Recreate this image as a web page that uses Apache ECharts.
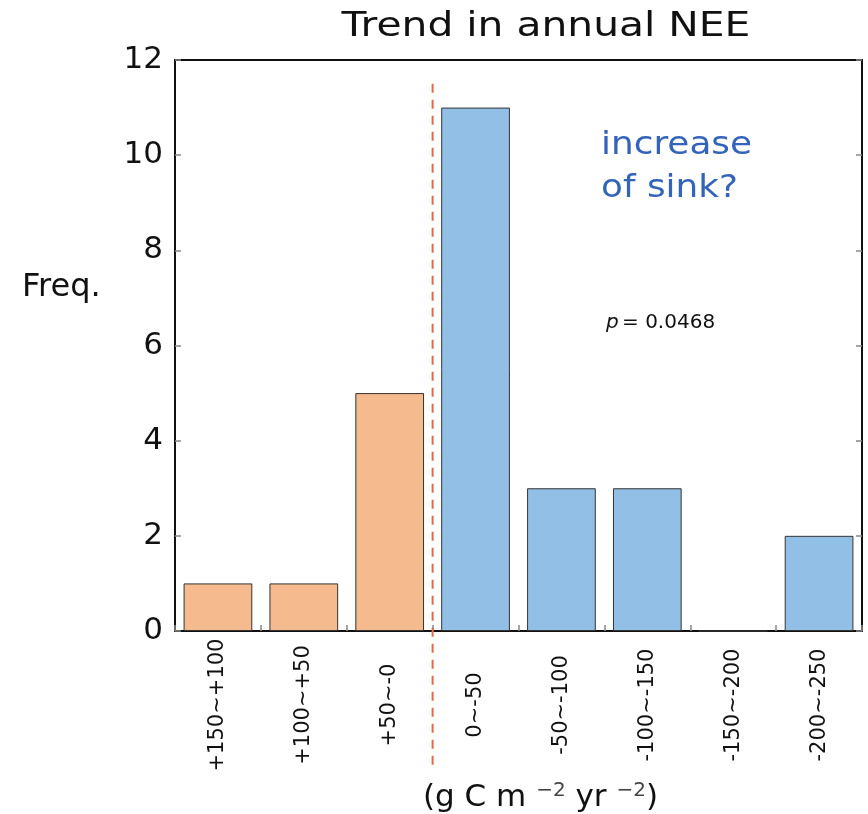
<!DOCTYPE html>
<html>
<head>
<meta charset="utf-8">
<script src="https://cdn.jsdelivr.net/npm/echarts@6/dist/echarts.min.js"></script>
<style>html,body{margin:0;padding:0;background:#fff;overflow:hidden;}#c{width:868px;height:814px;}</style>
</head>
<body>
<div id="c"></div>
<script>
const categories = ['+150~+100', '+100~+50', '+50~-0', '0~-50', '-50~-100', '-100~-150', '-150~-200', '-200~-250'];
const frequencies = [1, 1, 5, 11, 3, 3, 0, 2];
const barColors = ['#F5BA8E', '#F5BA8E', '#F5BA8E', '#92BFE6', '#92BFE6', '#92BFE6', '#92BFE6', '#92BFE6'];
const yTicks = [0, 2, 4, 6, 8, 10, 12];
const dividerBoundary = 3; // boundary between category 3 and 4

const chart = echarts.init(document.getElementById('c'));
const font = "'DejaVu Sans', sans-serif";

chart.setOption({
  animation: false,
  backgroundColor: '#fff',
  grid: { left: 175, width: 687, top: 60, height: 571, containLabel: false, outerBoundsMode: 'none' },
  xAxis: [{
    type: 'category',
    data: categories,
    position: 'bottom',
    axisLine: { show: true, lineStyle: { color: '#111', width: 2 } },
    axisTick: { show: true, inside: true, length: 6, lineStyle: { color: '#888', width: 1.5 } },
    axisLabel: {
      rotate: 90, align: 'center', verticalAlign: 'middle', margin: 74,
      fontFamily: font, fontSize: 21, color: '#111'
    },
    name: '{a|(g C m }{s|−2}{a| yr }{s|−2}{a|)}',
    nameLocation: 'middle', nameGap: 150,
    nameTextStyle: {
      padding: [0, 0, 0, 44],
      rich: {
        a: { fontFamily: font, fontSize: 31, color: '#111' },
        s: { fontFamily: font, fontSize: 20, color: '#444', verticalAlign: 'top', padding: [0, 0, 14, 0] }
      }
    }
  }, {
    type: 'value', min: 0, max: categories.length, position: 'top',
    axisLine: { show: true, onZero: false, lineStyle: { color: '#111', width: 2 } },
    axisTick: { show: false }, axisLabel: { show: false }, splitLine: { show: false }
  }],
  yAxis: [{
    type: 'value', min: 0, max: 12, interval: 2,
    position: 'left',
    axisLine: { show: true, lineStyle: { color: '#111', width: 2 } },
    axisTick: { show: true, inside: true, length: 6, lineStyle: { color: '#888', width: 1.5 } },
    axisLabel: { fontFamily: font, fontSize: 31, color: '#111', margin: 12,
      formatter: v => yTicks.includes(v) ? String(v) : '' },
    splitLine: { show: false }
  }, {
    type: 'value', min: 0, max: 12, interval: 2, position: 'right',
    axisLine: { show: true, lineStyle: { color: '#111', width: 2 } },
    axisTick: { show: true, inside: true, length: 6, lineStyle: { color: '#888', width: 1.5 } },
    axisLabel: { show: false }, splitLine: { show: false }
  }],
  series: [{
    type: 'bar',
    xAxisIndex: 0, yAxisIndex: 0,
    barCategoryGap: '20%',
    data: frequencies.map((v, i) => ({
      value: v,
      itemStyle: { color: barColors[i], borderColor: '#333', borderWidth: 1 }
    }))
  }]
});

function drawOverlay() {
  const xPix = chart.convertToPixel({ xAxisIndex: 1 }, dividerBoundary);
  const yTop = chart.convertToPixel({ yAxisIndex: 0 }, 11.5);
  chart.setOption({
    graphic: [
      {
        type: 'text', x: 546, y: 27, scaleX: 1.2, z: 10,
        style: { text: 'Trend in annual NEE', align: 'center', verticalAlign: 'middle',
          fontFamily: font, fontSize: 34, fill: '#111' }
      },
      {
        type: 'text', x: 22, y: 288, z: 10,
        style: { text: 'Freq.', align: 'left', verticalAlign: 'middle',
          fontFamily: font, fontSize: 32, fill: '#111' }
      },
      {
        type: 'line', silent: true, z: 10,
        shape: { x1: xPix, y1: yTop, x2: xPix, y2: 765 },
        style: { stroke: '#E8674A', lineWidth: 2, lineDash: [9, 7] }
      },
      {
        type: 'text', x: 601, y: 124, scaleX: 1.12, z: 10,
        style: { text: 'increase\nof sink?', fontFamily: font, fontSize: 32, lineHeight: 43, fill: '#3464B9' }
      },
      {
        type: 'text', x: 606, y: 313, z: 10,
        style: {
          text: '{i|p} {n|= 0.0468}',
          rich: {
            i: { fontFamily: font, fontSize: 20, fontStyle: 'italic', fill: '#111' },
            n: { fontFamily: font, fontSize: 20, fill: '#111' }
          }
        }
      }
    ]
  });
}
drawOverlay();
</script>
</body>
</html>
